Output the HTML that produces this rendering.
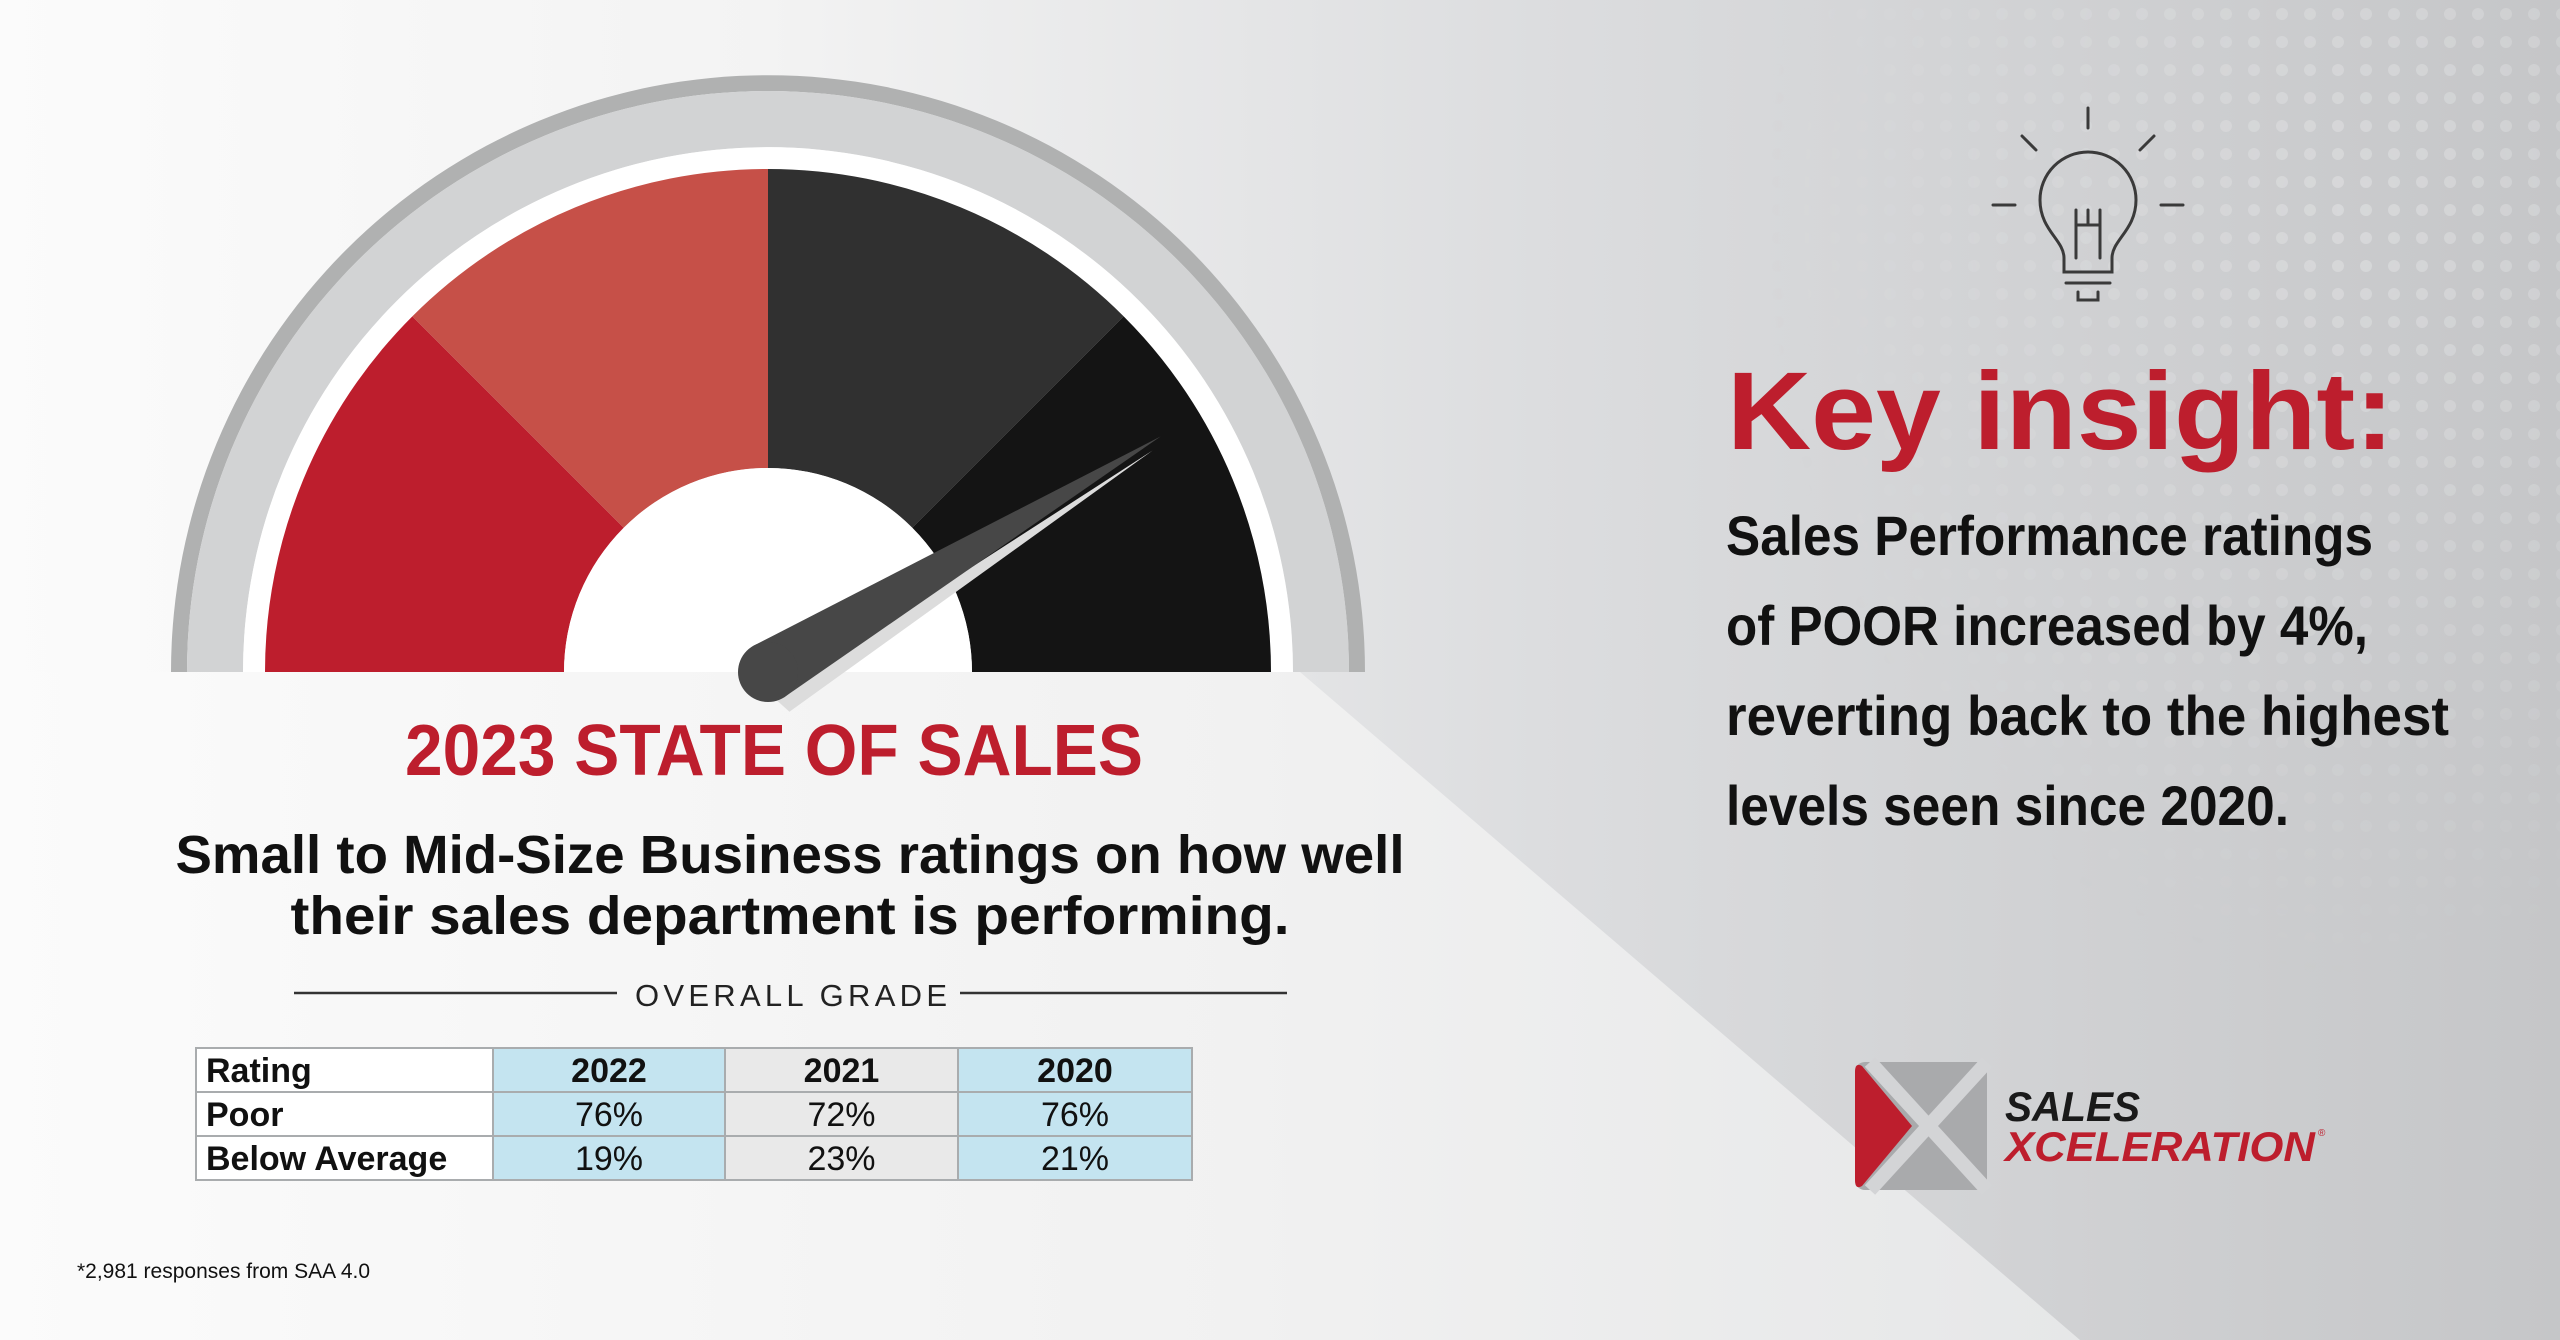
<!DOCTYPE html>
<html><head><meta charset="utf-8"><style>
html,body{margin:0;padding:0;width:2560px;height:1340px;overflow:hidden;background:#f5f5f5}
svg{display:block}
</style></head><body>
<svg id="root" width="2560" height="1340" viewBox="0 0 2560 1340" xmlns="http://www.w3.org/2000/svg">
<defs>
<linearGradient id="bg" x1="0" y1="0" x2="1" y2="0">
<stop offset="0" stop-color="#fbfbfb"/><stop offset="0.3" stop-color="#f3f3f3"/><stop offset="0.6" stop-color="#dcdddf"/><stop offset="1" stop-color="#c5c6c8"/></linearGradient>
<linearGradient id="low" x1="0" y1="0" x2="1" y2="0">
<stop offset="0" stop-color="#fbfbfb"/><stop offset="0.6" stop-color="#f1f1f1"/><stop offset="1" stop-color="#e6e7e8"/></linearGradient>
<pattern id="dots" width="28" height="28" patternUnits="userSpaceOnUse"><circle cx="14" cy="14" r="6" fill="#e2e3e4"/></pattern>
<radialGradient id="fade" cx="0.75" cy="0.2" r="0.75"><stop offset="0" stop-color="#fff" stop-opacity="0.55"/><stop offset="1" stop-color="#fff" stop-opacity="0"/></radialGradient>
<mask id="dm"><rect x="1750" y="0" width="810" height="1050" fill="url(#fade)"/></mask>
</defs>
<rect width="2560" height="1340" fill="url(#bg)"/>
<rect x="1750" y="0" width="810" height="1050" fill="url(#dots)" mask="url(#dm)"/>
<polygon points="0,672 1300,672 2080,1340 0,1340" fill="url(#low)"/>
<g id="gauge"></g>

<text x="774" y="775" text-anchor="middle" font-family="Liberation Sans, sans-serif" font-weight="bold" font-size="72" fill="#bd1e2d" textLength="738" lengthAdjust="spacingAndGlyphs">2023 STATE OF SALES</text>
<text x="790" y="873" text-anchor="middle" font-family="Liberation Sans, sans-serif" font-weight="bold" font-size="54" fill="#111" textLength="1229" lengthAdjust="spacingAndGlyphs">Small to Mid-Size Business ratings on how well</text>
<text x="790" y="934" text-anchor="middle" font-family="Liberation Sans, sans-serif" font-weight="bold" font-size="54" fill="#111" textLength="999" lengthAdjust="spacingAndGlyphs">their sales department is performing.</text>

<line x1="294" y1="993" x2="617" y2="993" stroke="#333" stroke-width="2.5"/>
<line x1="960" y1="993" x2="1287" y2="993" stroke="#333" stroke-width="2.5"/>
<text x="791" y="1006" text-anchor="middle" font-family="Liberation Sans, sans-serif" font-size="31" fill="#222" textLength="312" lengthAdjust="spacing">OVERALL GRADE</text>
<g id="table"></g>
<text x="77" y="1278" font-family="Liberation Sans, sans-serif" font-size="21" fill="#111">*2,981 responses from SAA 4.0</text>

<g fill="none" stroke="#3a3a3a" stroke-width="3" stroke-linecap="round">
<line x1="2088" y1="108" x2="2088" y2="128"/>
<line x1="2022" y1="136" x2="2036" y2="150"/><line x1="2154" y1="136" x2="2140" y2="150"/>
<line x1="1993" y1="205" x2="2015" y2="205"/><line x1="2161" y1="205" x2="2183" y2="205"/>
<path d="M2064 272 L2064 258 C2064 240 2040 230 2040 200 A48 48 0 0 1 2136 200 C2136 230 2112 240 2112 258 L2112 272 Z"/>
<path d="M2076 258 L2076 210 M2100 258 L2100 210 M2076 225 L2100 225 M2088 210 L2088 225"/>
<line x1="2066" y1="283" x2="2110" y2="283"/><path d="M2078 292 L2078 300 L2098 300 L2098 292"/>
</g>
<text x="1727" y="449" font-family="Liberation Sans, sans-serif" font-weight="bold" font-size="110" fill="#bd1e2d" textLength="667" lengthAdjust="spacingAndGlyphs">Key insight:</text>
<g font-family="Liberation Sans, sans-serif" font-weight="bold" font-size="56" fill="#111">
<text x="1726" y="555" textLength="647" lengthAdjust="spacingAndGlyphs">Sales Performance ratings</text>
<text x="1726" y="645" textLength="642" lengthAdjust="spacingAndGlyphs">of POOR increased by 4%,</text>
<text x="1726" y="735" textLength="723" lengthAdjust="spacingAndGlyphs">reverting back to the highest</text>
<text x="1726" y="825" textLength="563" lengthAdjust="spacingAndGlyphs">levels seen since 2020.</text>
</g>
<g>
<rect x="1855" y="1062" width="132" height="128" rx="10" fill="#a9aaac"/>
<line x1="1870" y1="1062" x2="1987" y2="1190" stroke="#d3d4d6" stroke-width="14"/>
<line x1="1987" y1="1062" x2="1870" y2="1190" stroke="#d3d4d6" stroke-width="14"/>
<path d="M1855 1072 Q1855 1062 1862 1066 L1912 1126 L1862 1186 Q1855 1190 1855 1180 Z" fill="#bd1e2d"/>
<text x="2005" y="1121" font-family="Liberation Sans, sans-serif" font-weight="bold" font-style="italic" font-size="42" fill="#1a1a1a" textLength="135" lengthAdjust="spacingAndGlyphs">SALES</text>
<text x="2005" y="1161" font-family="Liberation Sans, sans-serif" font-weight="bold" font-style="italic" font-size="42" fill="#bd1e2d" textLength="310" lengthAdjust="spacingAndGlyphs">XCELERATION</text>
<text x="2318" y="1136" font-family="Liberation Sans, sans-serif" font-size="10" fill="#bd1e2d">®</text>
</g>
</svg>
<script>
// gauge data: segment fractions (left to right) and needle value (0..1)
const segmentNames = ['poor', 'below-average', 'above-average', 'excellent'];
const segmentShares = [0.25, 0.25, 0.25, 0.25];
const segmentColors = ['#bd1e2d', '#c65048', '#303030', '#141414'];
const needleValue = [0.828];
// table data
const tableHeaders = ['Rating', '2022', '2021', '2020'];
const rowLabels = ['Poor', 'Below Average'];
const poorValues = [76, 72, 76];
const belowAvgValues = [19, 23, 21];

const NS = 'http://www.w3.org/2000/svg';
const cx = 768, cy = 672;
function mk(tag, attrs, parent) { const e = document.createElementNS(NS, tag); for (const k in attrs) e.setAttribute(k, attrs[k]); parent.appendChild(e); return e; }
function angleOf(v) { return Math.PI * (1 - v); }
function pt(r, v) { const a = angleOf(v); return [cx + r * Math.cos(a), cy - r * Math.sin(a)]; }
function ring(r1, r2, v0, v1) {
  const a = pt(r2, v0), b = pt(r2, v1), c = pt(r1, v1), d = pt(r1, v0);
  return `M${a[0]} ${a[1]} A${r2} ${r2} 0 0 1 ${b[0]} ${b[1]} L${c[0]} ${c[1]} A${r1} ${r1} 0 0 0 ${d[0]} ${d[1]} Z`;
}
const g = document.getElementById('gauge');
let e = mk('path', { d: ring(581, 597, 0, 1), fill: '#b0b1b1' }, g);


e = mk('path', { d: ring(525, 581, 0, 1), fill: '#d2d3d4' }, g);


e = mk('path', { d: ring(503, 525, 0, 1), fill: '#ffffff' }, g);


let acc = 0;
segmentShares.forEach((s, i) => {
  const p = mk('path', { d: ring(204, 503, acc, acc + s), fill: segmentColors[i] }, g);
  
  
  acc += s;
});
e = mk('path', { d: ring(0.01, 204, 0, 1), fill: '#ffffff' }, g);


// needle
const tip = pt(458, needleValue[0]);
const a = angleOf(needleValue[0]);
const px = Math.sin(a), py = Math.cos(a);
const hw = 30;
const sh = mk('polygon', { points: `${tip[0] - 8},${tip[1] + 14} ${cx + hw * px + 6},${cy + hw * py + 14} ${cx + 4},${cy + 24}`, fill: '#dcdcdc' }, g);


const nd = mk('polygon', { points: `${tip[0]},${tip[1]} ${cx + hw * px},${cy + hw * py} ${cx - hw * px},${cy - hw * py}`, fill: '#474747' }, g);


const hub = mk('circle', { cx: cx, cy: cy, r: hw, fill: '#474747' }, g);



// table
const t = document.getElementById('table');
const colX = [196, 493, 725, 958, 1192];
const rowY = [1048, 1092, 1136, 1180];
const colFill = ['#ffffff', '#c4e4f0', '#e9e9e9', '#c4e4f0'];
const rows = [tableHeaders, [rowLabels[0]].concat(poorValues.map(v => v + '%')), [rowLabels[1]].concat(belowAvgValues.map(v => v + '%'))];
rows.forEach((row, r) => {
  row.forEach((txt, c) => {
    const cell = mk('rect', { x: colX[c], y: rowY[r], width: colX[c + 1] - colX[c], height: rowY[r + 1] - rowY[r], fill: colFill[c], stroke: '#a9acae', 'stroke-width': 2 }, t);
    
    
    const bold = (r === 0 || c === 0);
    const tx = mk('text', { x: c === 0 ? colX[c] + 10 : (colX[c] + colX[c + 1]) / 2, y: rowY[r] + 34, 'text-anchor': c === 0 ? 'start' : 'middle', 'font-family': 'Liberation Sans, sans-serif', 'font-size': 34, 'font-weight': bold ? 'bold' : 'normal', fill: '#111' }, t);
    tx.textContent = txt;
    
    
  });
});
</script>
</body></html>
